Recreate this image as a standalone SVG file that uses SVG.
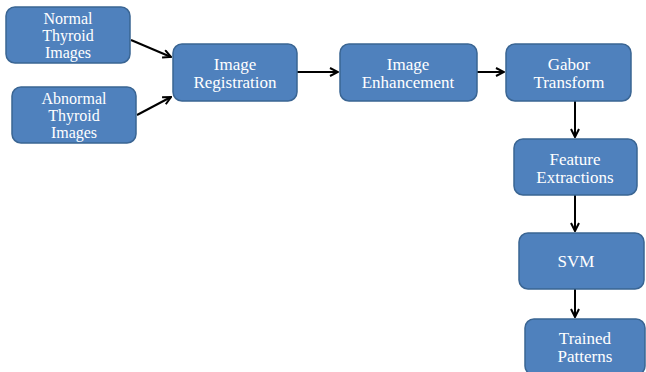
<svg xmlns="http://www.w3.org/2000/svg" width="646" height="372" viewBox="0 0 646 372">
<defs>
<style>
.box{fill:#4F81BD;stroke:#3A6593;stroke-width:1.5}
.t{font-family:'Liberation Serif','Times New Roman','DejaVu Serif',serif;font-size:17px;fill:#FFFFFF;text-anchor:middle}
.s{font-size:16px}
.c{stroke:#000;stroke-width:2;fill:none;marker-end:url(#ah)}
</style>
<marker id="ah" viewBox="0 0 10 10" refX="9" refY="5" markerWidth="5" markerHeight="5" orient="auto" markerUnits="strokeWidth">
<path d="M1,1 L9,5 L1,9" fill="none" stroke="#000" stroke-width="2"/>
</marker>
</defs>
<rect width="646" height="372" fill="#FFFFFF"/>
<g id="connectors">
<line class="c" x1="131" y1="40" x2="171" y2="57"/>
<line class="c" x1="137" y1="115" x2="171" y2="97"/>
<line class="c" x1="297" y1="72" x2="338" y2="72"/>
<line class="c" x1="477" y1="72" x2="504" y2="72"/>
<line class="c" x1="575" y1="101" x2="575" y2="137"/>
<line class="c" x1="575" y1="195" x2="575" y2="231"/>
<line class="c" x1="575" y1="289" x2="575" y2="317"/>
</g>
<g font-family="'Liberation Serif', 'Times New Roman', serif">
<g id="normal">
<rect class="box" x="6" y="7" width="124" height="56" rx="9"/>
<text class="t s" x="68" y="24">Normal</text>
<text class="t s" x="68" y="41">Thyroid</text>
<text class="t s" x="68" y="58">Images</text>
</g>
<g id="abnormal">
<rect class="box" x="12" y="87" width="124" height="56" rx="9"/>
<text class="t s" x="74" y="104">Abnormal</text>
<text class="t s" x="74" y="121">Thyroid</text>
<text class="t s" x="74" y="138">Images</text>
</g>
<g id="registration">
<rect class="box" x="173" y="44" width="124" height="57" rx="9"/>
<text class="t" x="235" y="70">Image</text>
<text class="t" x="235" y="88">Registration</text>
</g>
<g id="enhancement">
<rect class="box" x="340" y="44" width="137" height="57" rx="9"/>
<text class="t" x="408" y="70">Image</text>
<text class="t" x="408" y="88">Enhancement</text>
</g>
<g id="gabor">
<rect class="box" x="506" y="44" width="125" height="57" rx="9"/>
<text class="t" x="569" y="70">Gabor</text>
<text class="t" x="569" y="88">Transform</text>
</g>
<g id="feature">
<rect class="box" x="514" y="139" width="123" height="56" rx="9"/>
<text class="t" x="575" y="165">Feature</text>
<text class="t" x="575" y="183">Extractions</text>
</g>
<g id="svm">
<rect class="box" x="519" y="233" width="125" height="56" rx="9"/>
<text class="t" x="576" y="267">SVM</text>
</g>
<g id="trained">
<rect class="box" x="525" y="319" width="120" height="56" rx="9"/>
<text class="t" x="585" y="344">Trained</text>
<text class="t" x="585" y="362">Patterns</text>
</g>
</g>
</svg>
